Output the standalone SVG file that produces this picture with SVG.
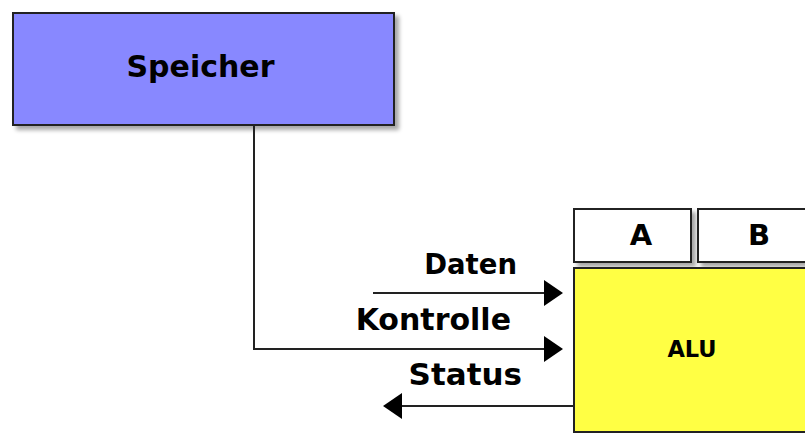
<svg xmlns="http://www.w3.org/2000/svg" width="805" height="433" viewBox="0 0 805 433">
<defs>
<filter id="sh" x="-10%" y="-10%" width="130%" height="140%">
<feGaussianBlur in="SourceAlpha" stdDeviation="2"/>
<feOffset dx="4" dy="4" result="b"/>
<feComponentTransfer><feFuncA type="linear" slope="0.35"/></feComponentTransfer>
<feMerge><feMergeNode/><feMergeNode in="SourceGraphic"/></feMerge>
</filter>
<marker id="ah" markerWidth="19" markerHeight="26" refX="0" refY="13" orient="auto" markerUnits="userSpaceOnUse">
<path d="M0,0 L19,13 L0,26 Z" fill="#000"/>
</marker>
</defs>
<style>
.box{stroke:#222;stroke-width:2}
.t{font-family:"DejaVu Sans",sans-serif;font-weight:bold;fill:#000}
.c{fill:none;stroke:#222;stroke-width:2}
</style>
<rect width="805" height="433" fill="#fff"/>
<g id="speicher">
<rect class="box" x="13" y="13" width="381" height="112" fill="#8888ff" filter="url(#sh)"/>
<text class="t" x="200.5" y="77" font-size="30" text-anchor="middle">Speicher</text>
</g>
<g id="regA">
<rect class="box" x="574" y="209" width="117" height="53" fill="#fff" filter="url(#sh)"/>
<text class="t" x="641" y="245" font-size="29" text-anchor="middle">A</text>
</g>
<g id="regB">
<rect class="box" x="698" y="209" width="117" height="53" fill="#fff" filter="url(#sh)"/>
<text class="t" x="759" y="245" font-size="29" text-anchor="middle">B</text>
</g>
<g id="alu">
<rect class="box" x="574" y="268" width="240" height="164" fill="#ffff44"/>
<text class="t" x="692" y="357" font-size="22.5" text-anchor="middle">ALU</text>
</g>
<g id="connectors">
<path class="c" d="M254,125 V349 H544" marker-end="url(#ah)"/>
<path class="c" d="M373,293 H544" marker-end="url(#ah)"/>
<path class="c" d="M574,406 H402" marker-end="url(#ah)"/>
<text class="t" x="517" y="274" font-size="27.5" text-anchor="end">Daten</text>
<text class="t" x="511" y="330" font-size="30" text-anchor="end">Kontrolle</text>
<text class="t" x="522" y="385" font-size="31" text-anchor="end">Status</text>
</g>
</svg>
